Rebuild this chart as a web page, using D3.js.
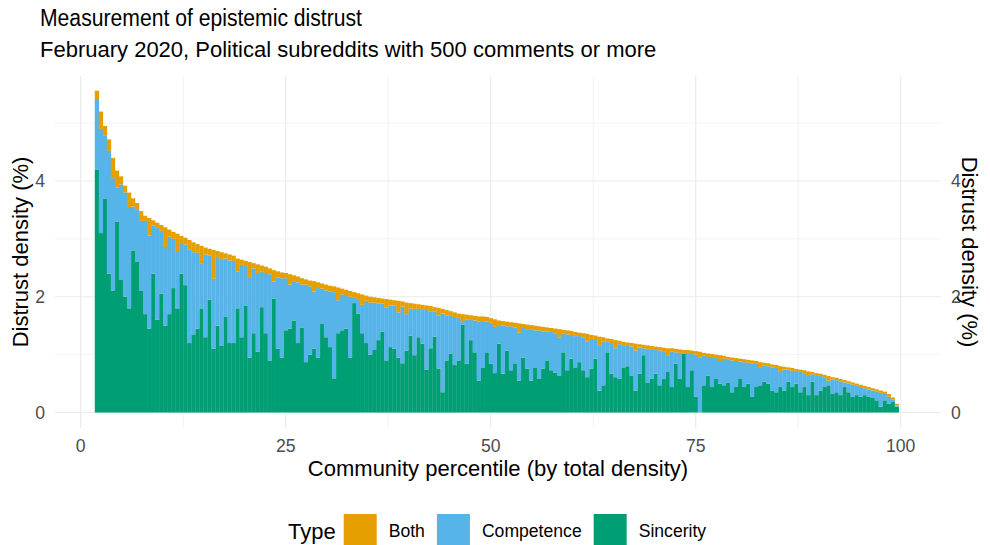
<!DOCTYPE html>
<html>
<head>
<meta charset="utf-8">
<script src="https://cdn.jsdelivr.net/npm/d3@7"></script>
<style>
  body { margin: 0; background: #fff; }
  text { font-family: "Liberation Sans", Arial, sans-serif; }
</style>
</head>
<body>
<svg id="chart" width="990" height="545"></svg>
<script>
// total distrust density per community, sorted (this is the x ordering)
var totalDensity = [
  5.56,5.2,4.95,4.72,4.4,4.18,4.08,3.92,3.8,3.7,3.62,3.48,3.4,3.36,3.32,3.28,3.24,3.2,3.16,3.12,
  3.09,3.05,3.02,2.98,2.94,2.91,2.88,2.85,2.83,2.81,2.79,2.77,2.75,2.73,2.71,2.66,2.64,2.62,2.6,2.58,
  2.56,2.54,2.52,2.49,2.46,2.44,2.42,2.41,2.39,2.37,2.35,2.32,2.3,2.28,2.27,2.25,2.23,2.21,2.19,2.18,
  2.16,2.14,2.12,2.1,2.08,2.06,2.04,2.02,2.0,1.99,1.98,1.97,1.96,1.95,1.94,1.93,1.92,1.9,1.89,1.88,
  1.87,1.86,1.85,1.84,1.82,1.81,1.79,1.77,1.75,1.73,1.71,1.7,1.69,1.68,1.67,1.66,1.66,1.65,1.63,1.61,
  1.59,1.58,1.57,1.56,1.55,1.54,1.53,1.52,1.51,1.5,1.49,1.48,1.47,1.46,1.45,1.44,1.43,1.42,1.41,1.39,
  1.38,1.37,1.36,1.34,1.33,1.31,1.3,1.28,1.27,1.25,1.24,1.22,1.21,1.2,1.19,1.18,1.17,1.16,1.15,1.14,
  1.13,1.12,1.11,1.11,1.1,1.09,1.08,1.08,1.07,1.06,1.05,1.03,1.02,1.01,1.0,0.99,0.98,0.96,0.95,0.94,
  0.93,0.92,0.91,0.9,0.89,0.87,0.86,0.85,0.83,0.82,0.8,0.79,0.78,0.77,0.75,0.74,0.73,0.71,0.7,0.68,
  0.67,0.65,0.63,0.61,0.6,0.58,0.56,0.54,0.52,0.5,0.48,0.46,0.44,0.42,0.4,0.38,0.36,0.32,0.26,0.15
];

var sincerity = [
  4.2,3.1,3.7,2.4,2.1,3.3,2.3,2.0,1.8,2.8,2.6,2.1,1.7,1.45,2.4,1.6,2.05,1.5,1.7,2.15,
  1.8,2.4,2.2,1.2,1.35,1.45,1.8,1.3,1.95,1.1,1.5,1.15,1.65,1.2,1.2,1.8,1.3,1.85,0.95,1.37,
  1.05,1.82,1.37,0.9,1.97,1.1,0.95,1.42,1.45,1.59,1.2,1.47,0.87,1.0,1.1,0.95,1.54,1.3,1.13,0.59,
  1.37,1.42,1.45,0.95,1.89,1.71,1.37,1.2,1.0,1.08,1.25,1.4,0.9,1.13,1.1,0.95,0.85,1.07,1.33,0.99,
  1.3,1.19,0.74,1.11,1.31,0.76,0.35,0.9,1.02,0.82,0.9,1.52,0.84,1.25,1.04,0.55,0.78,1.04,0.84,0.68,
  1.19,0.67,1.07,0.73,0.85,0.55,0.95,0.76,0.55,0.78,0.58,0.76,0.9,0.73,0.69,0.64,1.04,0.73,0.93,0.78,
  0.87,0.73,0.61,0.76,0.93,0.38,0.47,1.04,0.67,0.61,0.58,0.78,0.8,0.64,0.38,0.67,0.99,0.52,0.58,0.67,
  0.47,0.58,0.7,0.44,0.84,0.58,1.02,0.44,0.73,0.27,0.0,0.47,0.64,0.44,0.58,0.5,0.47,0.52,0.35,0.45,
  0.59,0.44,0.5,0.27,0.44,0.47,0.53,0.5,0.38,0.35,0.44,0.38,0.53,0.44,0.5,0.35,0.44,0.3,0.53,0.3,
  0.38,0.44,0.47,0.32,0.35,0.3,0.44,0.35,0.27,0.3,0.27,0.3,0.27,0.25,0.21,0.1,0.21,0.15,0.18,0.1
];

var both = [
  0.16,0.3,0.17,0.2,0.35,0.29,0.14,0.12,0.25,0.14,0.12,0.17,0.09,0.3,0.09,0.09,0.1,0.34,0.12,0.12,
  0.3,0.12,0.12,0.17,0.17,0.15,0.3,0.12,0.12,0.5,0.12,0.12,0.09,0.1,0.09,0.22,0.09,0.09,0.26,0.09,
  0.15,0.1,0.11,0.1,0.2,0.11,0.1,0.09,0.18,0.1,0.1,0.11,0.09,0.1,0.18,0.1,0.09,0.1,0.1,0.1,
  0.22,0.1,0.09,0.1,0.1,0.1,0.18,0.09,0.1,0.09,0.1,0.09,0.15,0.1,0.09,0.2,0.09,0.2,0.09,0.09,
  0.08,0.09,0.08,0.09,0.08,0.14,0.08,0.09,0.08,0.08,0.08,0.12,0.08,0.08,0.08,0.09,0.08,0.08,0.08,0.13,
  0.08,0.08,0.08,0.07,0.08,0.16,0.07,0.08,0.07,0.08,0.07,0.08,0.07,0.07,0.08,0.14,0.07,0.07,0.07,0.07,
  0.06,0.07,0.13,0.07,0.06,0.16,0.07,0.06,0.07,0.14,0.06,0.07,0.06,0.06,0.12,0.06,0.06,0.06,0.07,0.06,
  0.06,0.06,0.12,0.06,0.06,0.06,0.06,0.05,0.06,0.06,0.1,0.05,0.06,0.05,0.06,0.1,0.05,0.05,0.05,0.05,
  0.05,0.05,0.05,0.05,0.05,0.1,0.05,0.05,0.05,0.05,0.1,0.05,0.04,0.05,0.05,0.04,0.05,0.08,0.04,0.05,
  0.04,0.04,0.08,0.04,0.04,0.04,0.04,0.04,0.04,0.04,0.04,0.04,0.04,0.04,0.04,0.04,0.04,0.05,0.04,0.03
];

var types = ["Sincerity", "Competence", "Both"];   // stacking order, bottom to top
var legendTypes = ["Both", "Competence", "Sincerity"];
var colors = { Both: "#E69F00", Competence: "#56B4E9", Sincerity: "#009E73" };

var xTicks = [0, 25, 50, 75, 100];
var yTicks = [0, 2, 4];

var nShown = totalDensity.length,
    nCommunities = 204;   // communities ranked; the lowest ranks are not shown

// rows for d3.stack, competence is what's left between sincerity and both
var data = totalDensity.map(function(t, i) {
    return {
        pct: 100 * (i + nCommunities - nShown) / nCommunities,
        Sincerity: sincerity[i],
        Both: both[i],
        Competence: Math.max(0, t - sincerity[i] - both[i])
    };
});

var svg = d3.select("#chart");

var panel = { left: 55, right: 941, top: 76, bottom: 428 };

var x = d3.scaleLinear().domain([0, 100]).range([80.7, 900.7]);
var y = d3.scaleLinear().domain([0, 4]).range([412.5, 181]);
var barW = x(100 / nCommunities) - x(0);

// grid
var grid = svg.append("g");
var minorY = [1, 3, 5], minorX = [12.5, 37.5, 62.5, 87.5];
grid.selectAll(".gy").data(minorY).enter().append("line")
    .attr("x1", panel.left).attr("x2", panel.right)
    .attr("y1", d => y(d)).attr("y2", d => y(d))
    .attr("stroke", "#ebebeb").attr("stroke-width", 0.6);
grid.selectAll(".gx").data(minorX).enter().append("line")
    .attr("y1", panel.top).attr("y2", panel.bottom)
    .attr("x1", d => x(d)).attr("x2", d => x(d))
    .attr("stroke", "#ebebeb").attr("stroke-width", 0.6);
grid.selectAll(".Gy").data(yTicks).enter().append("line")
    .attr("x1", panel.left).attr("x2", panel.right)
    .attr("y1", d => y(d)).attr("y2", d => y(d))
    .attr("stroke", "#ebebeb").attr("stroke-width", 1.2);
grid.selectAll(".Gx").data(xTicks).enter().append("line")
    .attr("y1", panel.top).attr("y2", panel.bottom)
    .attr("x1", d => x(d)).attr("x2", d => x(d))
    .attr("stroke", "#ebebeb").attr("stroke-width", 1.2);

// stacked bars
var series = d3.stack().keys(types)(data);

svg.append("g").selectAll("g")
    .data(series).enter().append("g")
    .attr("fill", d => colors[d.key])
    .selectAll("rect")
    .data(d => d).enter().append("rect")
    .attr("x", d => x(d.data.pct) - barW / 2)
    .attr("width", barW + 0.3)
    .attr("y", d => y(d[1]))
    .attr("height", d => Math.max(0, y(d[0]) - y(d[1])));

// axes labels
var tickFont = 17.6, tickCol = "#4d4d4d";

svg.append("g").selectAll("text").data(xTicks).enter().append("text")
    .attr("x", d => x(d)).attr("y", 452)
    .attr("text-anchor", "middle")
    .attr("font-size", tickFont).attr("fill", tickCol)
    .text(d => d);

svg.append("g").selectAll("text").data(yTicks).enter().append("text")
    .attr("x", 45).attr("y", d => y(d) + 6.3)
    .attr("text-anchor", "end")
    .attr("font-size", tickFont).attr("fill", tickCol)
    .text(d => d);

svg.append("g").selectAll("text").data(yTicks).enter().append("text")
    .attr("x", 951).attr("y", d => y(d) + 6.3)
    .attr("text-anchor", "start")
    .attr("font-size", tickFont).attr("fill", tickCol)
    .text(d => d);

svg.append("text")
    .attr("x", (panel.left + panel.right) / 2).attr("y", 476)
    .attr("text-anchor", "middle").attr("font-size", 22)
    .text("Community percentile (by total density)");

var midY = (panel.top + panel.bottom) / 2;
svg.append("text")
    .attr("transform", "translate(28," + midY + ") rotate(-90)")
    .attr("text-anchor", "middle").attr("font-size", 22)
    .text("Distrust density (%)");

svg.append("text")
    .attr("transform", "translate(962," + midY + ") rotate(90)")
    .attr("text-anchor", "middle").attr("font-size", 22)
    .text("Distrust density (%)");

// titles
svg.append("text").attr("x", 40).attr("y", 26)
    .attr("font-size", 23)
    .attr("textLength", 322).attr("lengthAdjust", "spacingAndGlyphs")
    .text("Measurement of epistemic distrust");
svg.append("text").attr("x", 40).attr("y", 57)
    .attr("font-size", 22).text("February 2020, Political subreddits with 500 comments or more");

// legend
var legend = svg.append("g");
var lx = 288, ly = 531;
var lt = legend.append("text").attr("x", lx).attr("y", ly + 8)
    .attr("font-size", 22).text("Type");
lx += lt.node().getComputedTextLength() + 8;
legendTypes.forEach(function(k) {
    legend.append("rect").attr("x", lx).attr("y", ly - 17)
        .attr("width", 33).attr("height", 34).attr("fill", colors[k]);
    lx += 33 + 12;
    var t = legend.append("text").attr("x", lx).attr("y", ly + 6.3)
        .attr("font-size", 17.6).text(k);
    lx += t.node().getComputedTextLength() + 12;
});
</script>
</body>
</html>
